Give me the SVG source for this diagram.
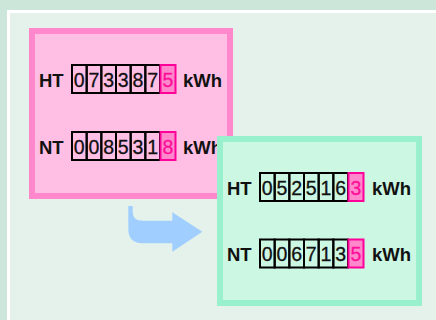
<svg xmlns="http://www.w3.org/2000/svg" width="436" height="320" viewBox="0 0 436 320">
<style>
.lbl{font-family:"Liberation Sans",Arial,Helvetica,sans-serif;font-size:18.5px;font-weight:bold;fill:#111;}
.dig{font-family:"Liberation Sans",Arial,Helvetica,sans-serif;font-size:19.5px;fill:#111;stroke:#111;stroke-width:0.3;text-anchor:middle;}
.dpk{font-family:"Liberation Sans",Arial,Helvetica,sans-serif;font-size:19.5px;fill:#ff0f99;stroke:#ff0f99;stroke-width:0.3;text-anchor:middle;}
.cell{fill:none;stroke:#000;stroke-width:2;}
.pcell{fill:#ff88cc;stroke:#ff0099;stroke-width:2;}
</style>
<rect x="0" y="0" width="436" height="320" fill="#cce6d9"/>
<rect x="8.5" y="11.5" width="460" height="340" fill="#e5f2eb" stroke="#ffffff" stroke-width="3"/>

<g id="meter-before">
<rect x="32" y="31" width="198" height="165" fill="#ffbfe5" stroke="#ff88cc" stroke-width="6"/>
<text class="lbl" x="39" y="86.5">HT</text>
<g>
<rect class="cell" x="72" y="65" width="14.67" height="28"/>
<rect class="cell" x="86.67" y="65" width="14.67" height="28"/>
<rect class="cell" x="101.33" y="65" width="14.67" height="28"/>
<rect class="cell" x="116" y="65" width="14.67" height="28"/>
<rect class="cell" x="130.67" y="65" width="14.67" height="28"/>
<rect class="cell" x="145.33" y="65" width="14.67" height="28"/>
<rect class="pcell" x="160.5" y="65" width="15" height="28"/>
<text class="dig" x="79.3" y="86.5">0</text>
<text class="dig" x="94" y="86.5">7</text>
<text class="dig" x="108.7" y="86.5">3</text>
<text class="dig" x="123.3" y="86.5">3</text>
<text class="dig" x="138" y="86.5">8</text>
<text class="dig" x="152.7" y="86.5">7</text>
<text class="dpk" x="168" y="86.5">5</text>
</g>
<text class="lbl" x="183" y="86.5">kWh</text>
<text class="lbl" x="39" y="153.5">NT</text>
<g>
<rect class="cell" x="72" y="132" width="14.67" height="28"/>
<rect class="cell" x="86.67" y="132" width="14.67" height="28"/>
<rect class="cell" x="101.33" y="132" width="14.67" height="28"/>
<rect class="cell" x="116" y="132" width="14.67" height="28"/>
<rect class="cell" x="130.67" y="132" width="14.67" height="28"/>
<rect class="cell" x="145.33" y="132" width="14.67" height="28"/>
<rect class="pcell" x="160.5" y="132" width="15" height="28"/>
<text class="dig" x="79.3" y="153.5">0</text>
<text class="dig" x="94" y="153.5">0</text>
<text class="dig" x="108.7" y="153.5">8</text>
<text class="dig" x="123.3" y="153.5">5</text>
<text class="dig" x="138" y="153.5">3</text>
<text class="dig" x="152.7" y="153.5">1</text>
<text class="dpk" x="168" y="153.5">8</text>
</g>
<text class="lbl" x="183" y="153.5">kWh</text>
</g>

<g id="connectors">
<path d="M128.3,206 L132.7,206 L132.7,212 Q132.7,220.7 143,220.7 L172.3,220.7 L172.3,212.3 L202.3,231.7 L172.3,251.7 L172.3,243.3 L143,243.3 Q128.3,243.3 128.3,229 Z" fill="#a0cfff"/>
</g>

<g id="meter-after">
<rect x="220" y="139" width="199" height="164" fill="#ccf7e3" stroke="#99f0cc" stroke-width="6"/>
<text class="lbl" x="227" y="194.5">HT</text>
<g>
<rect class="cell" x="260" y="173" width="14.67" height="28"/>
<rect class="cell" x="274.67" y="173" width="14.67" height="28"/>
<rect class="cell" x="289.33" y="173" width="14.67" height="28"/>
<rect class="cell" x="304" y="173" width="14.67" height="28"/>
<rect class="cell" x="318.67" y="173" width="14.67" height="28"/>
<rect class="cell" x="333.33" y="173" width="14.67" height="28"/>
<rect class="pcell" x="348.5" y="173" width="15" height="28"/>
<text class="dig" x="267.3" y="194.5">0</text>
<text class="dig" x="282" y="194.5">5</text>
<text class="dig" x="296.7" y="194.5">2</text>
<text class="dig" x="311.3" y="194.5">5</text>
<text class="dig" x="326" y="194.5">1</text>
<text class="dig" x="340.7" y="194.5">6</text>
<text class="dpk" x="356" y="194.5">3</text>
</g>
<text class="lbl" x="372" y="194.5">kWh</text>
<text class="lbl" x="227" y="261">NT</text>
<g>
<rect class="cell" x="260" y="239.5" width="14.67" height="28"/>
<rect class="cell" x="274.67" y="239.5" width="14.67" height="28"/>
<rect class="cell" x="289.33" y="239.5" width="14.67" height="28"/>
<rect class="cell" x="304" y="239.5" width="14.67" height="28"/>
<rect class="cell" x="318.67" y="239.5" width="14.67" height="28"/>
<rect class="cell" x="333.33" y="239.5" width="14.67" height="28"/>
<rect class="pcell" x="348.5" y="239.5" width="15" height="28"/>
<text class="dig" x="267.3" y="261">0</text>
<text class="dig" x="282" y="261">0</text>
<text class="dig" x="296.7" y="261">6</text>
<text class="dig" x="311.3" y="261">7</text>
<text class="dig" x="326" y="261">1</text>
<text class="dig" x="340.7" y="261">3</text>
<text class="dpk" x="356" y="261">5</text>
</g>
<text class="lbl" x="372" y="261">kWh</text>
</g>
</svg>
